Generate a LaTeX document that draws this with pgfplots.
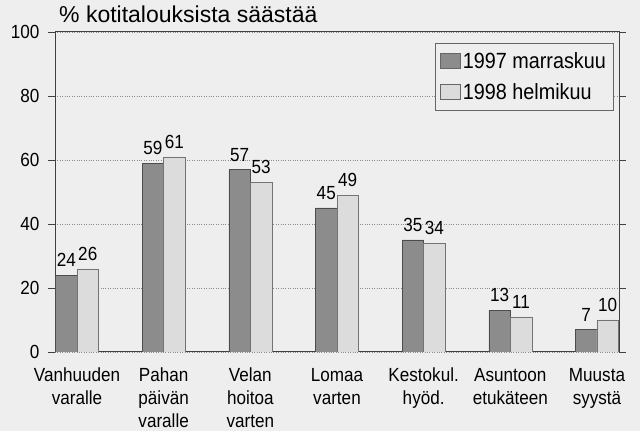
\documentclass[border=0pt]{standalone}
\usepackage{fontspec}
\setmainfont{Liberation Sans}[FakeStretch=0.9]
\newfontfamily\titlefont{Liberation Sans}
\usepackage{pgfplots}
\pgfplotsset{compat=1.18}
\definecolor{bg}{HTML}{EEEEEE}
\definecolor{darkbar}{HTML}{8C8C8C}
\definecolor{lightbar}{HTML}{DCDCDC}
\definecolor{axisc}{HTML}{404040}
\begin{document}
\begin{tikzpicture}[x=1pt,y=1pt]
\fill[bg] (0,0) rectangle (640,431);
\path[use as bounding box] (0,0) rectangle (640,431);
\node[anchor=base west, inner sep=0pt, font=\titlefont\fontsize{23}{26}\selectfont] at (59,408) {\% kotitalouksista säästää};
\begin{axis}[
  at={(55pt,79pt)}, anchor=south west,
  scale only axis, width=564pt, height=320pt,
  xmin=-0.254, xmax=6.254, ymin=0, ymax=100,
  ytick={0,20,40,60,80,100},
  xtick={0,1,2,3,4,5,6},
  xticklabels={{Vanhuuden\\varalle},{Pahan\\päivän\\varalle},{Velan\\hoitoa\\varten},{Lomaa\\varten},{Kestokul.\\hyöd.},{Asuntoon\\etukäteen},{Muusta\\syystä}},
  xticklabel style={align=center, font=\fontsize{19}{23}\selectfont, inner ysep=1pt, yshift=-8pt},
  yticklabel style={font=\fontsize{19}{22}\selectfont, xshift=-5pt},
  /pgf/number format/assume math mode=true,
  x tick style={draw=none},
  y tick style={draw=axisc, line width=0.9pt},
  tick align=outside, major tick length=7pt,
  axis line style={draw=axisc, line width=1pt},
  ymajorgrids, major grid style={dotted, draw=black!45, line width=0.6pt},
  ybar, bar width=0.248,
  nodes near coords,
  every node near coord/.append style={font=\fontsize{19}{21}\selectfont, inner sep=0pt, anchor=south, yshift=8pt},
  legend style={at={(rel axis cs:0.674,0.966)}, anchor=north west, fill=bg, draw=black!60, line width=0.6pt,
    font=\fontsize{22}{26}\selectfont, inner xsep=5pt, inner ysep=7pt, row sep=10pt},
  legend cell align=left,
]
\addplot[fill=darkbar, draw=black!70, line width=0.5pt, bar shift=-0.124,
  legend image code/.code={\draw[fill=darkbar, draw=black!60, line width=0.4pt] (0pt,-7pt) rectangle (20pt,8pt);}]
  coordinates {(0,24) (1,59) (2,57) (3,45) (4,35) (5,13) (6,7)};
\addlegendentry{1997 marraskuu}
\addplot[fill=lightbar, draw=black!55, line width=0.5pt, bar shift=0.124,
  legend image code/.code={\draw[fill=lightbar, draw=black!60, line width=0.4pt] (0pt,-7pt) rectangle (20pt,8pt);}]
  coordinates {(0,26) (1,61) (2,53) (3,49) (4,34) (5,11) (6,10)};
\addlegendentry{1998 helmikuu}
\end{axis}
\end{tikzpicture}
\end{document}
